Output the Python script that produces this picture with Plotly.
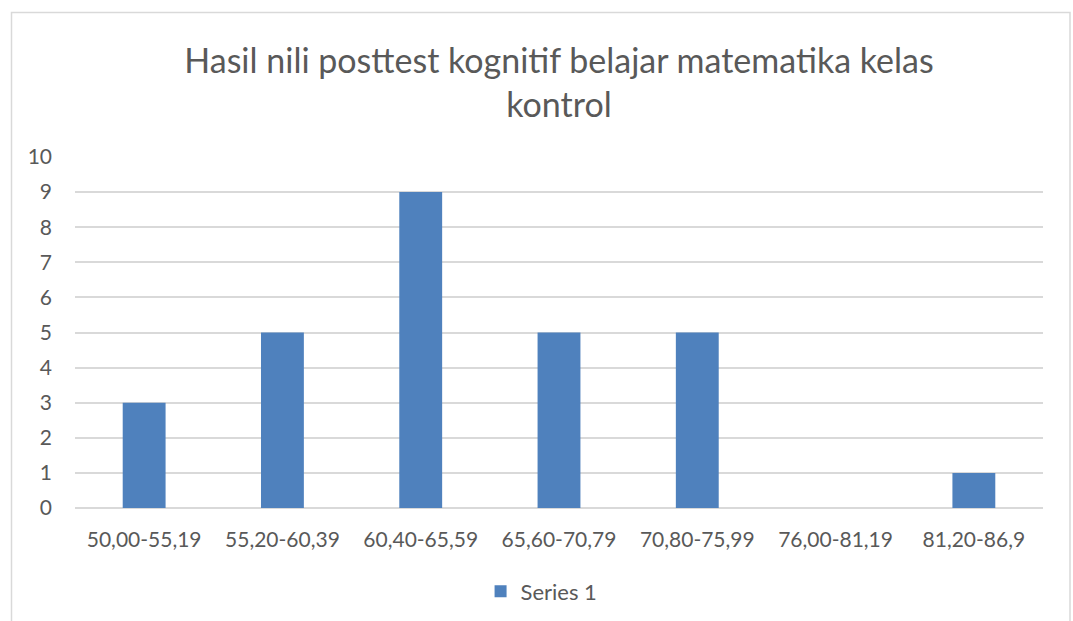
import plotly.graph_objects as go

categories = ["50,00-55,19", "55,20-60,39", "60,40-65,59", "65,60-70,79",
              "70,80-75,99", "76,00-81,19", "81,20-86,9"]
values = [3, 5, 9, 5, 5, 0, 1]
series_name = "Series 1"
title_text = "Hasil nili posttest kognitif belajar matematika kelas<br>kontrol"

FONT = "Lato"
GREY = "#595959"

fig = go.Figure()
fig.add_trace(go.Bar(x=categories, y=values, name=series_name,
                     marker=dict(color="#4F81BD", line=dict(width=0)),
                     width=0.31, showlegend=True))

fig.update_layout(
    width=1073, height=621,
    paper_bgcolor="white", plot_bgcolor="white",
    margin=dict(l=75, r=30, t=157, b=113, autoexpand=False),
    font=dict(family=FONT, color=GREY, size=21),
    title=dict(text=title_text, x=0.5, xanchor="center", xref="paper",
               y=1 - 73 / 621, yanchor="middle", yref="container",
               font=dict(family=FONT, size=34, color=GREY)),
    xaxis=dict(showgrid=False, showline=False, zeroline=False, automargin=False,
               tickfont=dict(size=21, color=GREY), ticks="", ticklabelstandoff=17),
    yaxis=dict(range=[0, 10], dtick=1, showgrid=True, gridcolor="#D9D9D9",
               gridwidth=1.5, zeroline=True, zerolinecolor="#D9D9D9", zerolinewidth=1.5,
               showline=False, ticks="", tickfont=dict(size=21, color=GREY),
               ticklabelstandoff=22, automargin=False),
    legend=dict(orientation="h", x=0.482, xanchor="center", y=-0.238, yanchor="middle",
                font=dict(size=22, color=GREY), itemwidth=30),
    bargap=0.69,
    shapes=[dict(type="rect", xref="paper", yref="paper",
                 x0=(11.5 - 75) / 968, x1=(1070 - 75) / 968,
                 y0=-0.5, y1=(508 - 12.5) / 351,
                 line=dict(color="#D9D9D9", width=1.5), fillcolor="rgba(0,0,0,0)",
                 layer="below")],
)

fig.write_html("out.html", config={"displayModeBar": False},
               post_script="document.body.style.margin='0px';")
